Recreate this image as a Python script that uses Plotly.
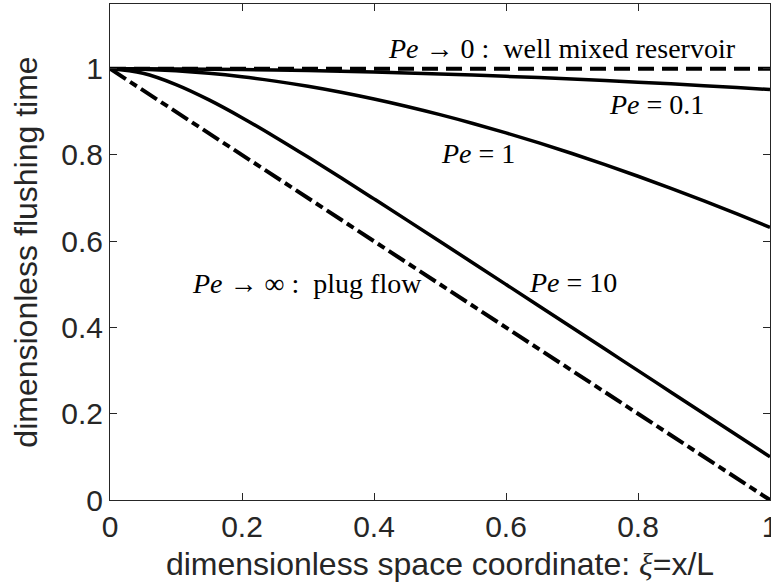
import plotly.graph_objects as go

xi = [0.0, 0.05, 0.1, 0.15, 0.2, 0.25, 0.3, 0.35, 0.4, 0.45, 0.5,
      0.55, 0.6, 0.65, 0.7, 0.75, 0.8, 0.85, 0.9, 0.95, 1.0]

tau_pe0 = [1.0] * 21
tau_pe01 = [1.0, 0.99988, 0.99950, 0.99888, 0.99801, 0.99690, 0.99554, 0.99395,
            0.99211, 0.99003, 0.98771, 0.98515, 0.98235, 0.97933, 0.97606,
            0.97257, 0.96884, 0.96488, 0.96069, 0.95627, 0.95163]
tau_pe1 = [1.0, 0.99877, 0.99516, 0.98929, 0.98127, 0.97120, 0.95918, 0.94531,
           0.92968, 0.91237, 0.89347, 0.87305, 0.85119, 0.82795, 0.80342,
           0.77763, 0.75067, 0.72259, 0.69343, 0.66326, 0.63212]
tau_pe10 = [1.0, 0.98935, 0.96321, 0.92769, 0.88647, 0.84179, 0.79502, 0.74698,
            0.69817, 0.64889, 0.59933, 0.54959, 0.49975, 0.44985, 0.39991,
            0.34994, 0.29997, 0.24998, 0.19999, 0.14999, 0.10000]
tau_pinf = [1.0, 0.95, 0.9, 0.85, 0.8, 0.75, 0.7, 0.65, 0.6, 0.55, 0.5,
            0.45, 0.4, 0.35, 0.3, 0.25, 0.2, 0.15, 0.1, 0.05, 0.0]

x_ticks = [0, 0.2, 0.4, 0.6, 0.8, 1]
x_ticklabels = ["0", "0.2", "0.4", "0.6", "0.8", "1"]
y_ticks = [0, 0.2, 0.4, 0.6, 0.8, 1]
y_ticklabels = ["0", "0.2", "0.4", "0.6", "0.8", "1"]

labels = [
    "<i>Pe</i> → 0 :\u00a0\u00a0well mixed reservoir",
    "<i>Pe</i> = 0.1",
    "<i>Pe</i> = 1",
    "<i>Pe</i> = 10",
    "<i>Pe</i> → ∞ :\u00a0\u00a0plug flow",
]
label_x = [0.685, 0.828, 0.558, 0.701, 0.2985]
label_y = [1.0475, 0.918, 0.804, 0.505, 0.503]

fig = go.Figure()
fig.add_trace(go.Scatter(x=xi, y=tau_pe0, mode="lines",
                         line=dict(color="black", width=4, dash="16px,8px")))
fig.add_trace(go.Scatter(x=xi, y=tau_pe01, mode="lines", line_shape="spline",
                         line=dict(color="black", width=3.5)))
fig.add_trace(go.Scatter(x=xi, y=tau_pe1, mode="lines", line_shape="spline",
                         line=dict(color="black", width=3.5)))
fig.add_trace(go.Scatter(x=xi, y=tau_pe10, mode="lines", line_shape="spline",
                         line=dict(color="black", width=3.5)))
fig.add_trace(go.Scatter(x=xi, y=tau_pinf, mode="lines",
                         line=dict(color="black", width=4, dash="19px,5px,8px,5px")))

for t, xx, yy in zip(labels, label_x, label_y):
    fig.add_annotation(x=xx, y=yy, text=t, showarrow=False, xanchor="center",
                       yanchor="middle",
                       font=dict(family="Liberation Serif", size=28, color="black"))

axis_common = dict(
    showgrid=False, zeroline=False, showline=True, linecolor="#262626",
    linewidth=1, mirror="ticks", ticks="inside", ticklen=7, tickwidth=1,
    tickcolor="#262626", ticklabeloverflow="allow", automargin=False,
    tickfont=dict(family="Liberation Sans", size=30, color="#262626"),
)

fig.update_layout(
    width=771, height=588,
    margin=dict(l=110, r=1, t=4, b=88, autoexpand=False),
    paper_bgcolor="white", plot_bgcolor="white",
    showlegend=False,
    xaxis=dict(range=[0, 1], tickvals=x_ticks, ticktext=x_ticklabels,
               title=dict(text="dimensionless space coordinate: <span style=\"font-family:'Liberation Serif'\"><i>ξ</i></span>=x/L",
                          font=dict(family="Liberation Sans", size=32, color="#262626"),
                          standoff=10),
               **axis_common),
    yaxis=dict(range=[0, 1.15], tickvals=y_ticks, ticktext=y_ticklabels,
               title=dict(text="dimensionless flushing time",
                          font=dict(family="Liberation Sans", size=32, color="#262626"),
                          standoff=14),
               **axis_common),
)

fig.write_html("out.html")
